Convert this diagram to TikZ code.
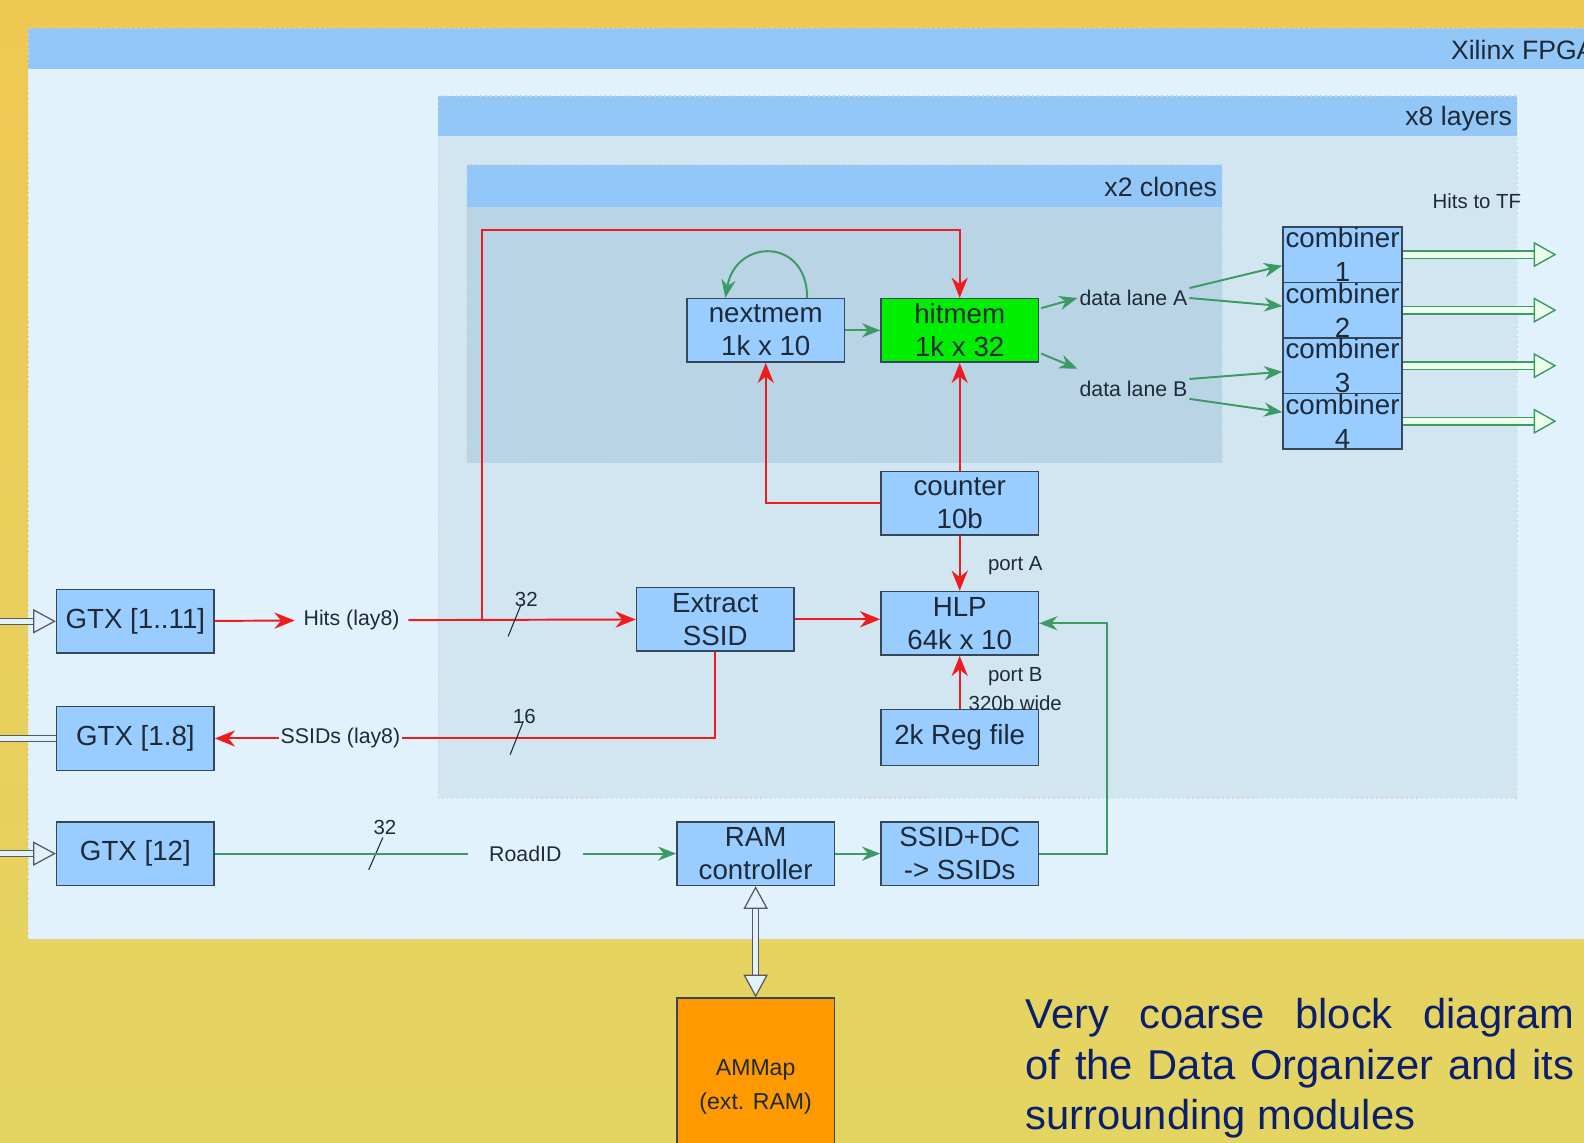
\documentclass[tikz,border=0pt]{standalone}
\usepackage{fontspec}
\setmainfont{Liberation Sans}
\usetikzlibrary{arrows.meta,positioning,calc}

\definecolor{bgtop}{HTML}{EFC853}
\definecolor{bgbottom}{HTML}{E4D563}
\definecolor{fpgabody}{HTML}{E2F2FC}
\definecolor{bandblue}{HTML}{92C7F7}
\definecolor{layerbody}{HTML}{D2E6F2}
\definecolor{clonebody}{HTML}{B9D4E5}
\definecolor{blockfill}{HTML}{99CCFF}
\definecolor{blockline}{HTML}{37475A}
\definecolor{wirered}{HTML}{EE1C1C}
\definecolor{wiregreen}{HTML}{3C9A64}
\definecolor{hitgreen}{HTML}{00EE00}
\definecolor{ramorange}{HTML}{FF9900}
\definecolor{navytext}{HTML}{0B1F6B}
\definecolor{labeltext}{HTML}{1E2A38}

\tikzset{
  graytip/.tip={Triangle[open, length=0.45cm, width=0.48cm, line width=0.7pt, fill=fpgabody]},
  greentip/.tip={Triangle[open, length=0.45cm, width=0.5cm, line width=0.8pt, fill=green!8!white]},
  block/.style={draw=blockline, line width=0.8pt, fill=blockfill, text=labeltext,
    align=center, minimum width=3.12cm, minimum height=1.26cm, inner sep=0pt,
    font=\fontsize{15.6}{18.5}\selectfont},
  combiner/.style={block, minimum width=2.36cm, minimum height=1.1cm,
    font=\fontsize{15.6}{19}\selectfont},
  tag/.style={text=labeltext, inner sep=0.17cm, font=\fontsize{12}{14}\selectfont},
  smalltag/.style={text=labeltext, inner sep=0pt, font=\fontsize{11.5}{13}\selectfont},
  band/.style={text=labeltext, inner sep=0pt, font=\fontsize{15}{18}\selectfont},
  container/.style={draw=white!65!gray, dotted, line width=0.8pt},
  redline/.style={wirered, line width=1.1pt},
  redarrow/.style={redline, -{Stealth[length=0.4cm,width=0.32cm]}},
  greenline/.style={wiregreen, line width=1.1pt},
  greenarrow/.style={greenline, -{Stealth[length=0.36cm,width=0.28cm]}},
  graydouble/.style={draw=gray!70!black, double=fpgabody, double distance=0.1cm, line width=0.7pt},
  greendouble/.style={draw=wiregreen, double=green!8!white, double distance=0.12cm, line width=0.8pt, -{greentip}},
  buswidth/.style={labeltext, line width=0.6pt}
}

\begin{document}
\begin{tikzpicture}[x=0.02cm, y=-0.02cm]
  \useasboundingbox (0,0) rectangle (1568,1131);
  \begin{scope}
  \clip (0,0) rectangle (1568,1131);
  \shade[top color=bgtop, bottom color=bgbottom] (0,0) rectangle (1568,1131);

  % nested frames
  \fill[fpgabody] (28,28) rectangle (1600,930);
  \fill[bandblue] (28,28) rectangle (1600,68);
  \draw[container] (28,28) rectangle (1600,930);
  \node[band, anchor=west] (fpgalbl) at (1436,49) {Xilinx FPGA};

  \fill[layerbody] (434,95) rectangle (1502,790);
  \fill[bandblue] (434,95) rectangle (1502,135);
  \draw[container] (434,95) rectangle (1502,790);
  \node[band, anchor=east] (layerlbl) at (1497,117) {x8 layers};

  \fill[clonebody] (462,163) rectangle (1210,458);
  \fill[bandblue] (462,163) rectangle (1210,205);
  \draw[container] (462,163) rectangle (1210,458);
  \node[band, anchor=east] (clonelbl) at (1205,185) {x2 clones};

  % blocks
  \node[block] (gtxa) at (134,615) {GTX [1..11]};
  \node[block] (gtxb) at (134,731) {GTX [1.8]};
  \node[block] (gtxc) at (134,845) {GTX [12]};
  \node[block] (extract) at (708,613) {Extract\\SSID};
  \node[block] (hlp) at (950,617) {HLP\\64k x 10};
  \node[block, minimum height=1.1cm] (regfile) at (950,730) {2k Reg file};
  \node[block] (counter) at (950,498) {counter\\10b};
  \node[block] (nextmem) at (758,327) {nextmem\\1k x 10};
  \node[block, fill=hitgreen] (hitmem) at (950,327) {hitmem\\1k x 32};
  \node[block] (ramctl) at (748,845) {RAM\\controller};
  \node[block] (ssiddc) at (950,845) {SSID+DC\\-> SSIDs};
  \node[block, fill=ramorange, minimum height=3.52cm, font=\fontsize{13}{19}\selectfont] (ammap) at (748,1076) {AMMap\\(ext. RAM)};
  \foreach \i/\y in {1/252,2/307,3/362,4/417}
    \node[combiner] (c\i) at (1329,\y) {combiner\\\i};

  % labels on the wires
  \node[tag] (hits) at (348,614) {Hits (lay8)};
  \node[tag, inner sep=1pt] (ssids) at (337,731) {SSIDs (lay8)};
  \node[tag, inner xsep=0.42cm] (roadid) at (520,845) {RoadID};
  \node[tag, inner sep=1pt] (laneA) at (1122,295) {data lane A};
  \node[tag, inner sep=1pt] (laneB) at (1122,385) {data lane B};
  \node[smalltag] (porta) at (1005,560) {port A};
  \node[smalltag] (portb) at (1005,670) {port B};
  \node[smalltag] (wide) at (1005,696) {320b wide};
  \node[smalltag] (totf) at (1462,199) {Hits to TF};

  % red paths
  \draw[redarrow] (gtxa) -- (hits);
  \draw[redarrow] (hits) -- (extract);
  \coordinate (split) at (477,614);
  \coordinate (bend) at (477,228);
  \draw[redarrow] (split) -- (bend) -| (hitmem.north);
  \draw[redarrow] (extract.east) -- (extract.east -| hlp.west);
  \draw[redline] (extract.south) |- (ssids.east);
  \draw[redarrow] (ssids) -- (gtxb);
  \draw[redarrow] (counter.west) -| (nextmem.south);
  \draw[redarrow] (counter) -- (hitmem);
  \draw[redarrow] (counter) -- (hlp);
  \draw[redarrow] (regfile) -- (hlp);

  % bus widths
  \draw[buswidth] (503,630) -- (516,598);
  \node[smalltag] (wa) at (521,593) {32};
  \draw[buswidth] (505,747) -- (518,714);
  \node[smalltag] (wb) at (519,709) {16};
  \draw[buswidth] (365,861) -- (379,829);
  \node[smalltag] (wc) at (381,819) {32};

  % green paths
  \draw[greenarrow] ($(nextmem.north)+(41,0)$) to[out=90, in=80, looseness=1.9] ($(nextmem.north)+(-40,0)$);
  \draw[greenarrow] (nextmem) -- (hitmem);
  \draw[greenarrow] ($(hitmem.east)+(2,-22)$) -- (laneA.west);
  \draw[greenarrow] ($(hitmem.east)+(2,23)$) -- ($(laneB.west)+(0,-20)$);
  \draw[greenarrow] (laneA.north east) -- ($(c1.west)+(0,11)$);
  \draw[greenarrow] (laneA.east) -- ($(c2.west)+(0,-4)$);
  \draw[greenarrow] (laneB.north east) -- ($(c3.west)+(0,6)$);
  \draw[greenarrow] (laneB.south east) -- ($(c4.west)+(0,-9)$);
  \foreach \i in {1,...,4} {
    \coordinate (tf\i) at ($(c\i.east)+(152,0)$);
    \draw[greendouble] (c\i.east) -- (tf\i);
  }
  \draw[greenline] (gtxc) -- (roadid);
  \draw[greenarrow] (roadid) -- (ramctl);
  \draw[greenarrow] (ramctl) -- (ssiddc);
  \draw[greenarrow] (ssiddc.east) -- ++(67,0) |- (hlp.east);

  % external links
  \coordinate (ina) at (0,615);
  \coordinate (outb) at (0,731);
  \coordinate (inc) at (0,845);
  \draw[graydouble, -{graytip}] (ina) -- (gtxa);
  \draw[graydouble] (gtxb) -- (outb);
  \draw[graydouble, -{graytip}] (inc) -- (gtxc);
  \draw[graydouble, {graytip}-{graytip}] (ramctl) -- (ammap);

  \node[anchor=north west, inner sep=0pt, text width=10.86cm, align=justify,
    text=navytext, font=\fontsize{23.5}{28.5}\selectfont] (caption) at (1015,988)
    {Very coarse block diagram\linebreak of the Data Organizer and its\linebreak surrounding modules};
  \end{scope}
\end{tikzpicture}
\end{document}
